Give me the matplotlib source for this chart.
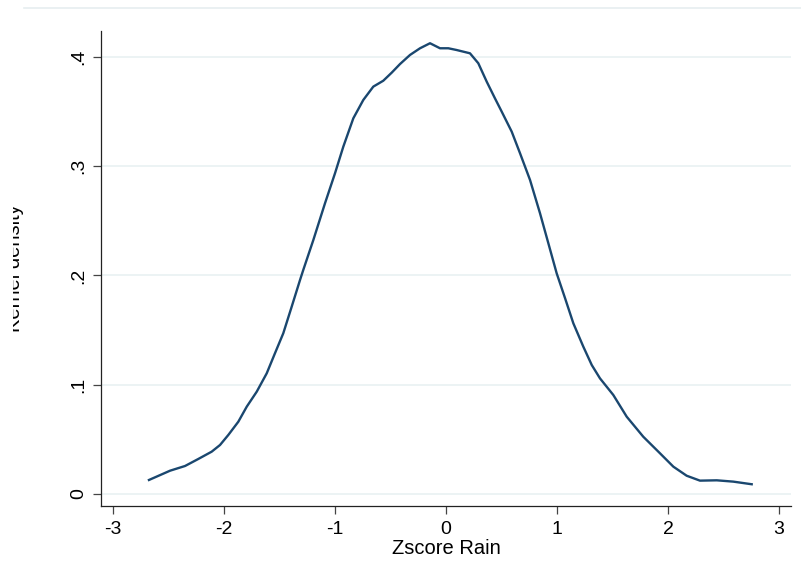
import matplotlib
matplotlib.use("Agg")
import matplotlib.pyplot as plt
from matplotlib.lines import Line2D
from matplotlib.patches import Rectangle

plt.rcParams['font.family'] = ['Liberation Sans', 'DejaVu Sans']
plt.rcParams['axes.unicode_minus'] = False

# -------------------------
# data (kernel density of Zscore Rain)
# -------------------------
zscore = [-2.676, -2.486, -2.351, -2.232, -2.111, -2.036, -1.961, -1.871, -1.795,
          -1.705, -1.615, -1.541, -1.466, -1.390, -1.315, -1.286, -1.195, -1.090,
          -1.000, -0.925, -0.835, -0.745, -0.655, -0.565, -0.489, -0.414, -0.324,
          -0.234, -0.144, -0.054, 0.021, 0.096, 0.216, 0.291, 0.367, 0.441,
          0.502, 0.592, 0.667, 0.757, 0.847, 0.922, 0.997, 1.072, 1.147,
          1.237, 1.313, 1.387, 1.507, 1.628, 1.777, 1.928, 2.048, 2.168,
          2.288, 2.439, 2.588, 2.754]
density = [0.0128, 0.0213, 0.0256, 0.0320, 0.0387, 0.0448, 0.0540, 0.0661, 0.0799,
           0.0936, 0.1104, 0.1287, 0.1470, 0.1714, 0.1958, 0.2049, 0.2324, 0.2660,
           0.2934, 0.3178, 0.3437, 0.3605, 0.3727, 0.3781, 0.3855, 0.3934, 0.4017,
           0.4078, 0.4124, 0.4078, 0.4078, 0.4062, 0.4032, 0.3941, 0.3772, 0.3620,
           0.3498, 0.3315, 0.3117, 0.2873, 0.2568, 0.2294, 0.2019, 0.1793, 0.1562,
           0.1348, 0.1180, 0.1058, 0.0906, 0.0707, 0.0524, 0.0372, 0.0250, 0.0167,
           0.0122, 0.0125, 0.0113, 0.0089]

xticks = [-3, -2, -1, 0, 1, 2, 3]
xtick_labels = ['-3', '-2', '-1', '0', '1', '2', '3']
yticks = [0, 0.1, 0.2, 0.3, 0.4]
ytick_labels = ['0', '.1', '.2', '.3', '.4']

navy = '#1a476f'
grid_col = '#eaf2f3'

# -------------------------
# figure
# -------------------------
W, H = 801, 579
fig = plt.figure(figsize=(W / 100, H / 100), dpi=100)
left, right, bottom, top = 101, 791, 506, 31
ax = fig.add_axes([left / W, 1 - bottom / H, (right - left) / W, (bottom - top) / H])

ax.plot(zscore, density, color=navy, lw=1.7, zorder=3)

ax.set_xlim(-3.108, 3.108)
ax.set_ylim(-0.011, 0.4236)

ax.set_xticks(xticks)
ax.set_xticklabels(xtick_labels)
ax.set_yticks(yticks)
ax.set_yticklabels(ytick_labels, rotation=90, va='center')

ax.yaxis.grid(True, color=grid_col, lw=1.3)
ax.set_axisbelow(True)

for s in ['top', 'right']:
    ax.spines[s].set_visible(False)
for s in ['left', 'bottom']:
    ax.spines[s].set_linewidth(0.9)
    ax.spines[s].set_color('#222222')

ax.tick_params(axis='both', direction='out', length=5.5, width=0.9,
               color='#444444', labelsize=14)
ax.tick_params(axis='x', pad=5)
ax.tick_params(axis='y', pad=4.5)

ax.set_xlabel('Zscore Rain', fontsize=14.5, labelpad=1)
ax.set_ylabel('Kernel density', fontsize=14.5)
ax.yaxis.set_label_coords(-(left - 24) / (right - left), 0.5)
ax.yaxis.label.set_va('bottom')

# faint outer border at the top and the cropped left margin
fig.add_artist(Line2D([24 / W, 1], [1 - 8 / H, 1 - 8 / H], color='#e6eef0', lw=1.2))
fig.add_artist(Rectangle((0, 0), 13 / W, 1, transform=fig.transFigure,
                         facecolor='white', edgecolor='none', zorder=10))

fig.savefig('out.png', dpi=100)
